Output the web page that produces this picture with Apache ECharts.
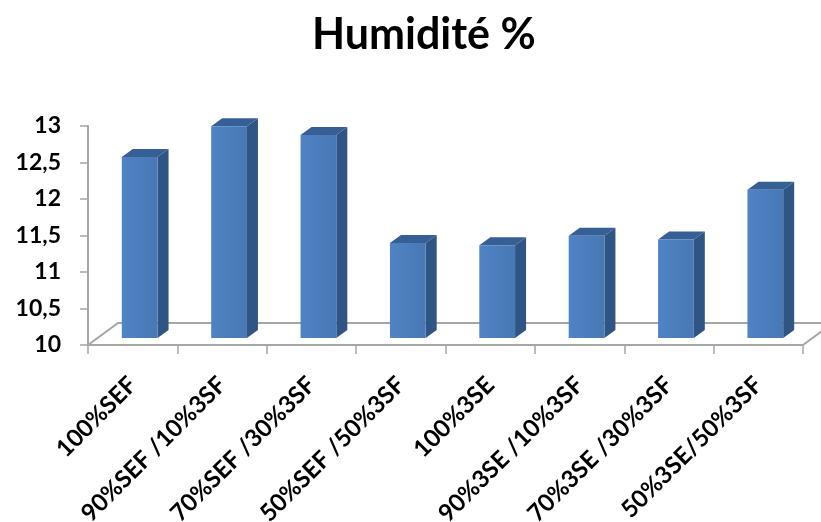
<!DOCTYPE html>
<html>
<head>
<meta charset="utf-8">
<script src="https://cdn.jsdelivr.net/npm/echarts@6/dist/echarts.min.js"></script>
<style>
  html, body { margin: 0; padding: 0; background: #ffffff; }
  #chart { width: 821px; height: 522px; }
</style>
</head>
<body>
<div id="chart"></div>
<script>
// Humidité (%) par mélange
const categories = [
  '100%SEF', '90%SEF /10%3SF', '70%SEF /30%3SF', '50%SEF /50%3SF',
  '100%3SE', '90%3SE /10%3SF', '70%3SE /30%3SF', '50%3SE/50%3SF'
];
const humidity = [12.48, 12.9, 12.78, 11.3, 11.27, 11.4, 11.35, 12.03];
const yTicks = { min: 10, max: 13, step: 0.5 };

const FONT = 'Lato, "Open Sans", sans-serif';
const AXIS_GREY = '#a6a6a6';

// pseudo-3D geometry (pixels)
const FLOOR_DX = 30, FLOOR_DY = 22;   // depth of the floor
const BAR_X0 = 7, BAR_Y0 = 7;         // bars sit a little behind the front edge
const BAR_DX = 11, BAR_DY = 8;        // depth of each column

const chart = echarts.init(document.getElementById('chart'), null, { renderer: 'canvas' });

function renderFloor(params, api) {
  const cs = params.coordSys;
  const l = cs.x, r = cs.x + cs.width, b = cs.y + cs.height;
  return {
    type: 'polyline',
    shape: { points: [[l, b], [l + FLOOR_DX, b - FLOOR_DY], [r + FLOOR_DX, b - FLOOR_DY], [r + FLOOR_DX - 2, b - FLOOR_DY + 1.5], [r, b]] },
    style: { stroke: AXIS_GREY, lineWidth: 2, fill: null },
    silent: true
  };
}

function renderBar(params, api) {
  const idx = api.value(0);
  const top = api.coord([idx, api.value(1)]);
  const base = api.coord([idx, yTicks.min]);
  const band = api.size([1, 0])[0];
  const w = band * 0.4;
  const x1 = top[0] - w / 2 + BAR_X0;
  const x2 = x1 + w;
  const yT = top[1] - BAR_Y0;
  const yB = base[1] - BAR_Y0;
  return {
    type: 'group',
    children: [
      { // side face
        type: 'polygon',
        shape: { points: [[x2, yT], [x2 + BAR_DX, yT - BAR_DY], [x2 + BAR_DX, yB - BAR_DY], [x2, yB]] },
        style: { fill: '#2f5585' }
      },
      { // top face
        type: 'polygon',
        shape: { points: [[x1, yT], [x1 + BAR_DX, yT - BAR_DY], [x2 + BAR_DX, yT - BAR_DY], [x2, yT]] },
        style: { fill: '#365f95' }
      },
      { // front face
        type: 'rect',
        shape: { x: x1, y: yT, width: w, height: yB - yT },
        style: {
          fill: new echarts.graphic.LinearGradient(0, 0, 1, 0, [
            { offset: 0, color: '#4f83c4' },
            { offset: 1, color: '#4878b5' }
          ])
        }
      }
    ]
  };
}

chart.setOption({
  animation: false,
  backgroundColor: '#ffffff',
  title: {
    text: 'Humidité %',
    left: 307,
    top: 9,
    textStyle: { fontFamily: FONT, fontSize: 43, fontWeight: 'bold', color: '#000' }
  },
  grid: { left: 88, right: 18, top: 126, bottom: 177, containLabel: false, outerBoundsMode: 'none' },
  xAxis: {
    type: 'category',
    data: categories,
    boundaryGap: true,
    axisLine: { show: true, lineStyle: { color: AXIS_GREY, width: 2 } },
    axisTick: { show: true, length: 9, lineStyle: { color: AXIS_GREY, width: 1.5 } },
    axisLabel: {
      interval: 0, rotate: 45, margin: 36,
      fontFamily: FONT, fontSize: 24, fontWeight: 'bold', color: '#000'
    },
    splitLine: { show: false }
  },
  yAxis: {
    type: 'value',
    min: yTicks.min, max: yTicks.max, interval: yTicks.step,
    axisLine: { show: true, lineStyle: { color: AXIS_GREY, width: 2 } },
    axisTick: { show: true, length: 8, lineStyle: { color: AXIS_GREY, width: 1.5 } },
    axisLabel: {
      margin: 27,
      fontFamily: FONT, fontSize: 23, fontWeight: 'bold', color: '#000',
      formatter: v => String(v).replace('.', ',')
    },
    splitLine: { show: false }
  },
  series: [
    {
      type: 'custom',
      renderItem: renderFloor,
      data: [[0]],
      z: 1,
      silent: true
    },
    {
      type: 'custom',
      renderItem: renderBar,
      data: humidity.map((v, i) => [i, v]),
      encode: { x: 0, y: 1 },
      z: 3
    }
  ]
});
</script>
</body>
</html>
